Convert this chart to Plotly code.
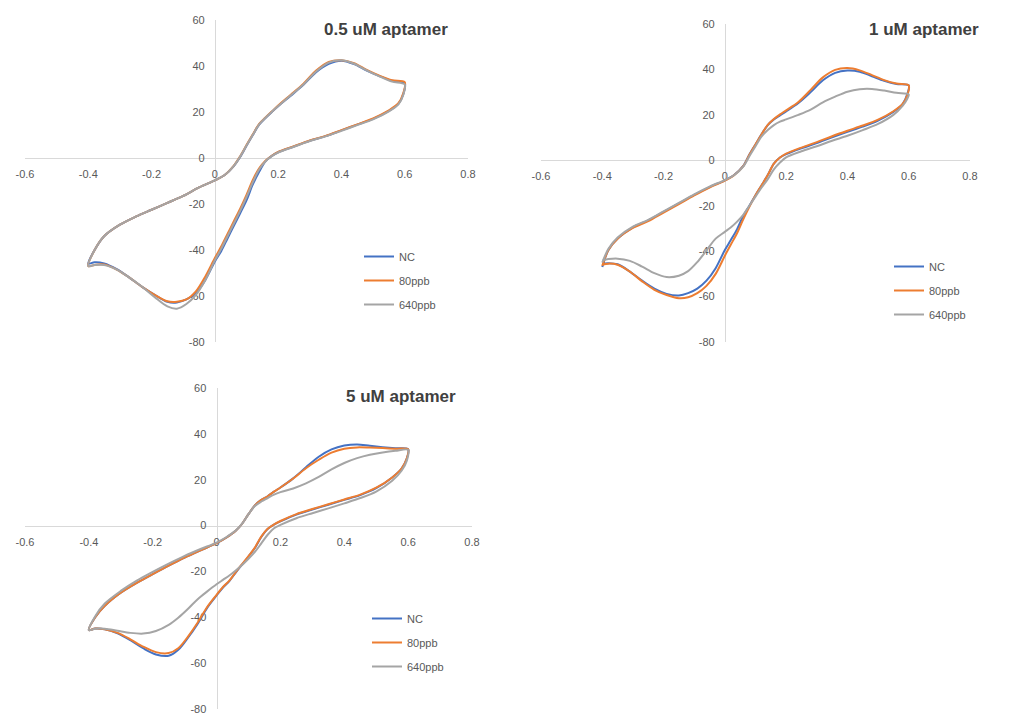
import plotly.graph_objects as go

# ---------------- data ----------------
x_tick_vals = [-0.6, -0.4, -0.2, 0, 0.2, 0.4, 0.6, 0.8]
x_tick_text = ["-0.6", "-0.4", "-0.2", "0", "0.2", "0.4", "0.6", "0.8"]
y_tick_vals = [-80, -60, -40, -20, 0, 20, 40, 60]
y_tick_text = ["-80", "-60", "-40", "-20", "0", "20", "40", "60"]

series_names = ["NC", "80ppb", "640ppb"]
panel_titles = ["0.5 uM aptamer", "1 uM aptamer", "5 uM aptamer"]

# potential (V) of forward sweep (-0.4 -> 0.6) and reverse sweep (0.6 -> -0.4)
E_fwd = [-0.40, -0.38, -0.35, -0.30, -0.25, -0.20, -0.15, -0.10, -0.05, 0.00,
         0.03, 0.06, 0.08, 0.10, 0.12, 0.14, 0.16, 0.18, 0.20, 0.24, 0.28,
         0.32, 0.36, 0.40, 0.44, 0.48, 0.52, 0.56, 0.60]
E_rev = [0.60, 0.595, 0.58, 0.55, 0.50, 0.45, 0.40, 0.35, 0.30, 0.25, 0.20,
         0.18, 0.16, 0.14, 0.12, 0.10, 0.08, 0.06, 0.04, 0.02, 0.00, -0.03,
         -0.06, -0.09, -0.12, -0.15, -0.19, -0.23, -0.27, -0.31, -0.35, -0.38, -0.40]

# ---- 0.5 uM aptamer ----
p1_nc_fwd = [-46, -40, -34, -29, -25.5, -22.5, -19.5, -16.5, -12.8, -9.7,
             -7.5, -3.5, 0.4, 5.3, 10, 14.5, 17.4, 20, 22.5, 27.1, 31.8,
             37.3, 40.9, 42.3, 40.8, 38, 35.6, 33.6, 32.5]
p1_nc_rev = [32.5, 27.5, 23.5, 20.5, 17, 14.5, 12, 9.5, 7.5, 5, 2.5,
             0.9, -1.5, -6, -11.5, -18.4, -24, -29.5, -35, -40.5, -45, -53,
             -58.8, -61.5, -62.8, -62.5, -59.5, -56, -52, -48.3, -45.8, -45.3, -46]
p1_80_fwd = [-47, -40, -34, -29, -25.5, -22.5, -19.5, -16.5, -12.8, -9.7,
             -7.5, -3.3, 0.8, 5.6, 10.3, 14.8, 17.6, 20.2, 22.8, 27.5, 32.3,
             38, 41.8, 42.5, 41.2, 38.3, 35.8, 33.8, 33]
p1_80_rev = [33, 28, 23.8, 20.7, 17.2, 14.6, 12.1, 9.6, 7.6, 5.1, 2.6,
             1, -1.2, -4.5, -9.5, -16, -22, -27.5, -33, -38.5, -43.5, -51.5,
             -58, -61.5, -62.5, -62.3, -59.5, -56, -52, -48.5, -46.3, -46.5, -47]
p1_640_fwd = [-47, -40, -34, -29, -25.5, -22.5, -19.5, -16.5, -12.8, -9.7,
              -7.5, -3.4, 0.6, 5.4, 10.1, 14.6, 17.5, 20.1, 22.6, 27.3, 32,
              37.6, 41.5, 42.5, 41, 38.1, 35.5, 33.2, 32]
p1_640_rev = [32, 27.3, 23.3, 20.3, 16.8, 14.3, 11.8, 9.4, 7.4, 4.9, 2.4,
              0.8, -1.4, -5, -10.5, -17, -23, -28.5, -34, -39.5, -44.5, -53,
              -59.5, -63.5, -65.5, -64.5, -60.5, -56, -52, -48.5, -46.5, -46.5, -47]

# ---- 1 uM aptamer ----
p2_nc_fwd = [-47, -39.5, -34.5, -29.5, -26.5, -22.7, -19, -15.2, -11.8, -8.8,
             -6.5, -2.5, 2.5, 7, 11.5, 15.5, 18, 19.8, 21.5, 25.2, 30,
             35.2, 38.5, 39.5, 39, 37, 35, 33.6, 33]
p2_nc_rev = [33, 29, 24.7, 21.3, 17.5, 14.8, 12.5, 10.1, 7.6, 5.3, 2.7,
             1.2, -1.5, -6.5, -11, -15.4, -20, -24.5, -30.3, -35, -39.5, -47.5,
             -53, -56.5, -58.5, -59.5, -58.8, -56.5, -53, -49, -45.8, -45.3, -45.5]
p2_80_fwd = [-46.5, -39.5, -34.5, -29.8, -26.8, -23, -19.3, -15.5, -12, -9,
             -6.6, -2.6, 2.4, 7, 11.5, 15.6, 18.2, 20.2, 22, 25.7, 31,
             36.5, 39.8, 40.6, 39.6, 37.5, 35.3, 33.8, 33]
p2_80_rev = [33, 28.5, 24.8, 21.6, 17.9, 15.3, 13, 10.6, 8, 5.6, 2.9,
             1.2, -1.5, -6.5, -11, -15.4, -20.5, -26, -32, -37, -42, -50,
             -55.3, -58.5, -60.3, -60.7, -59.3, -57, -53.3, -49, -46, -45.5, -46]
p2_640_fwd = [-45, -39, -34, -29.2, -26.2, -22.5, -18.8, -15, -11.6, -8.7,
              -6.6, -2.8, 1.8, 6.2, 10.5, 13.3, 15.5, 17, 18, 20, 22.3,
              25.5, 28, 30.2, 31.3, 31.4, 30.7, 29.7, 29]
p2_640_rev = [29, 27, 24, 20, 16, 13.3, 10.8, 8.6, 6.2, 4, 1.3,
              -1, -4, -8.3, -12, -16, -20, -24, -27, -29.5, -31.5, -34.5,
              -39.7, -44.8, -48.8, -50.8, -51.4, -49.7, -46.8, -44.3, -43.3, -43.5, -44]

# ---- 5 uM aptamer ----
p3_nc_fwd = [-45.6, -40, -35, -29.3, -25, -21.2, -17.5, -14, -10.8, -7.7,
             -5.3, -2.3, 0.8, 5, 8.8, 11.2, 12.8, 14.8, 16.6, 20.6, 25.4,
             30, 33.2, 34.9, 35.4, 34.8, 34.2, 33.7, 33.3]
p3_nc_rev = [33.3, 29, 25, 21, 16.3, 13.3, 11.2, 9.1, 7, 4.8, 1.8,
             0.4, -1.5, -5, -9.8, -13.5, -17, -20.5, -24.2, -27, -30.5, -36,
             -43, -49, -54.2, -56.8, -56.2, -53.5, -50, -47, -45.2, -44.9, -45.6]
p3_80_fwd = [-45.6, -40, -35, -29.3, -25, -21.2, -17.5, -14, -10.8, -7.7,
             -5.3, -2.3, 0.8, 5, 8.8, 11.2, 12.8, 14.8, 16.6, 20.5, 25,
             28.7, 31.8, 33.5, 34.1, 34, 33.8, 33.5, 33.3]
p3_80_rev = [33.3, 29, 25, 21, 16.5, 13.5, 11.4, 9.3, 7.2, 5, 2,
             0.5, -1.4, -4.8, -9.6, -13.3, -16.8, -20.3, -24, -26.8, -30.2, -35.6,
             -42.5, -48.5, -53.5, -55.6, -55.2, -52.8, -49.6, -46.8, -45.2, -44.9, -45.6]
p3_640_fwd = [-45.6, -39.5, -34, -28.5, -24, -20.2, -16.6, -13.2, -10.2, -7.4,
              -5.1, -2.2, 0.8, 5, 8.5, 10.5, 12, 13.5, 14.6, 16.2, 18.4,
              21.2, 24.5, 27.3, 29.4, 30.9, 31.9, 32.6, 33]
p3_640_rev = [33, 28, 24, 19.5, 14.8, 12, 9.7, 7.5, 5.4, 3.2, 0.3,
              -1.2, -4, -7.8, -11.5, -14.5, -17.2, -19.6, -21.8, -23.7, -25.6, -28.8,
              -32.2, -36.4, -40.2, -43.3, -46, -47.1, -46.8, -45.9, -45, -45, -45.6]

panels = [
    [(p1_nc_fwd, p1_nc_rev), (p1_80_fwd, p1_80_rev), (p1_640_fwd, p1_640_rev)],
    [(p2_nc_fwd, p2_nc_rev), (p2_80_fwd, p2_80_rev), (p2_640_fwd, p2_640_rev)],
    [(p3_nc_fwd, p3_nc_rev), (p3_80_fwd, p3_80_rev), (p3_640_fwd, p3_640_rev)],
]

# ---------------- styling / layout ----------------
W, H = 1011, 727
OFF = 8  # page body margin of the browser
colors = ["#4472C4", "#ED7D31", "#A5A5A5"]
x_range = [-0.6, 0.8]
y_range = [-80, 60]

# target positions in window pixels: plot areas (left, right, top, bottom)
areas = [(25, 468, 20, 342), (541, 970, 24, 342), (25, 472, 388, 709)]
title_pos = [(450, 29), (981, 29), (458, 396)]
legend_pos = [(359, 242), (889, 252), (367, 604)]


def px(v):
    return (v - OFF) / W


def py(v):
    return 1 - (v - OFF) / H


fig = go.Figure()
axis_font = dict(family="Liberation Sans, Arial, sans-serif", size=11, color="#595959")

for i, (left, right, top, bottom) in enumerate(areas):
    n = "" if i == 0 else str(i + 1)
    xd = [px(left), px(right)]
    yd = [py(bottom), py(top)]
    x_zero = xd[0] + (0 - x_range[0]) / (x_range[1] - x_range[0]) * (xd[1] - xd[0])
    y_zero = yd[0] + (0 - y_range[0]) / (y_range[1] - y_range[0]) * (yd[1] - yd[0])
    leg = "legend" + n
    for k, (fwd, rev) in enumerate(panels[i]):
        fig.add_trace(go.Scatter(
            x=E_fwd + E_rev[1:], y=fwd + rev[1:],
            mode="lines", name=series_names[k],
            line=dict(color=colors[k], width=2, shape="spline", smoothing=0.9),
            xaxis="x" + n, yaxis="y" + n, legend=leg,
            legendgroup="p%d_%d" % (i, k),
        ))
    fig.layout["xaxis" + n] = dict(
        domain=xd, range=x_range, anchor="free", position=y_zero,
        tickmode="array", tickvals=x_tick_vals, ticktext=x_tick_text,
        showgrid=False, zeroline=False, showline=True, linecolor="#D9D9D9",
        linewidth=1, ticks="outside", ticklen=6, tickcolor="rgba(0,0,0,0)",
        tickfont=axis_font, layer="below traces", fixedrange=True,
        automargin=False,
    )
    fig.layout["yaxis" + n] = dict(
        domain=yd, range=y_range, anchor="free", position=x_zero,
        tickmode="array", tickvals=y_tick_vals, ticktext=y_tick_text,
        showgrid=False, zeroline=False, showline=True, linecolor="#D9D9D9",
        linewidth=1, ticks="outside", ticklen=8, tickcolor="rgba(0,0,0,0)",
        tickfont=axis_font, layer="below traces", fixedrange=True,
        automargin=False,
    )
    lx, ly = legend_pos[i]
    fig.layout[leg] = dict(
        x=px(lx), y=py(ly), xanchor="left", yanchor="top",
        bgcolor="rgba(0,0,0,0)", borderwidth=0, tracegroupgap=5,
        font=dict(family="Liberation Sans, Arial, sans-serif", size=11, color="#595959"),
        itemwidth=30,
    )
    tx, ty = title_pos[i]
    fig.add_annotation(
        text="<b>%s</b>" % panel_titles[i], xref="paper", yref="paper",
        x=px(tx), y=py(ty), xanchor="right", yanchor="middle",
        showarrow=False,
        font=dict(family="Liberation Sans, Arial, sans-serif", size=17, color="#404040"),
    )

fig.update_layout(
    width=W, height=H, margin=dict(l=0, r=0, t=0, b=0, autoexpand=False),
    paper_bgcolor="white", plot_bgcolor="white", showlegend=True,
)

fig.write_html("out.html")
